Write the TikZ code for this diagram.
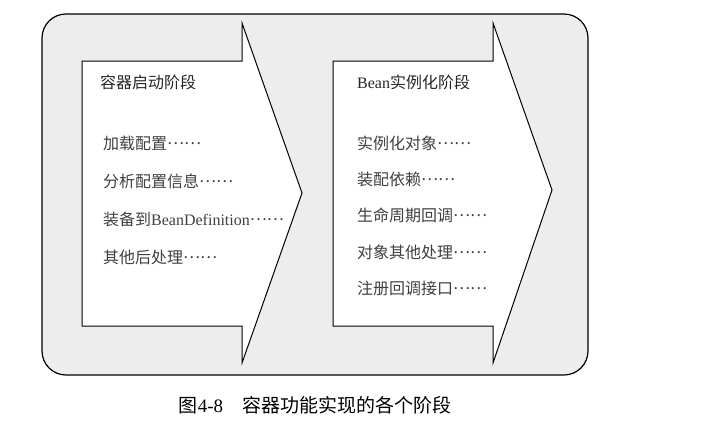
\documentclass[tikz,border=0pt]{standalone}
\usepackage{fontspec}
\setmainfont{Liberation Serif}
\newfontfamily\cjk{Noto Sans CJK SC}
\usetikzlibrary{calc}
\definecolor{panelgray}{RGB}{237,237,237}
\definecolor{textgray}{RGB}{64,64,64}
\newcommand{\middots}{\raisebox{0.3em}{\cjk ……}}
\tikzset{panel/.style={draw=black,line width=1.2pt,fill=panelgray,rounded corners=24pt},
	phase/.style={draw=black,line width=1pt,fill=white,line join=miter},
	phasetitle/.style={anchor=west,inner sep=0pt,font=\fontsize{16}{16}\selectfont,text=black!85},
	item/.style={anchor=west,inner sep=0pt,font=\fontsize{16}{16}\selectfont,text=textgray},
	caption/.style={inner sep=0pt,font=\fontsize{19}{19}\selectfont,text=black}}

\begin{document}
\begin{tikzpicture}[x=1pt,y=-1pt]
\useasboundingbox (0,0) rectangle (721,434);
% outer panel
\draw[panel] (42,14) rectangle (588,375);
% the two phase arrows
\draw[phase] (82,61) -- (242,61) -- (242,23) -- (302,193) -- (242,363) -- (242,326) -- (82,326) -- cycle;
\draw[phase] (333,61) -- (493,61) -- (493,23) -- (552,190) -- (493,363) -- (493,326) -- (333,326) -- cycle;

\node[phasetitle] (start) at (100,82) {\cjk 容器启动阶段};
\node[phasetitle] (inst) at (357,82) {Bean{\cjk 实例化阶段}};

\foreach \t [count=\k] in {加载配置,分析配置信息} {
	\node[item] (s\k) at (103,{143+(\k-1)*38}) {{\cjk \t}\middots};
};
\node[item] (s3) at (103,219) {{\cjk 装备到}BeanDefinition\middots};
\node[item] (s4) at (103,257) {{\cjk 其他后处理}\middots};

\foreach \t [count=\k] in {实例化对象,装配依赖,生命周期回调,对象其他处理,注册回调接口} {
	\node[item] (b\k) at (357,{143+(\k-1)*36.3}) {{\cjk \t}\middots};
};

\node[caption] (cap) at (315,405) {{\cjk 图}4-8\quad{\cjk 容器功能实现的各个阶段}};
\end{tikzpicture}
\end{document}
